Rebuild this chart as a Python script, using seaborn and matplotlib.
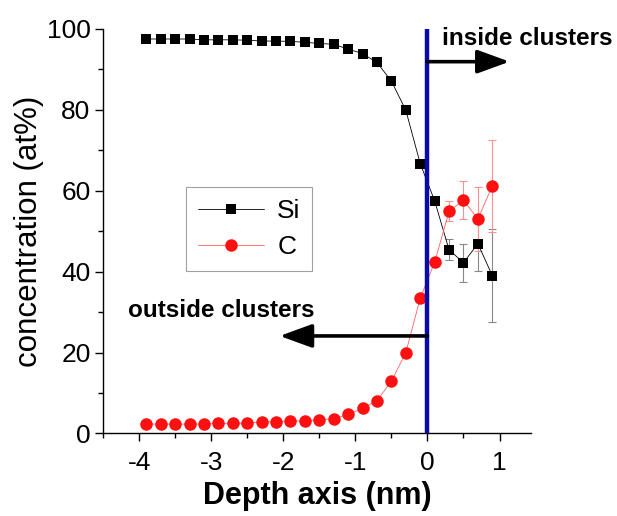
import numpy as np
import pandas as pd
import matplotlib
matplotlib.use("Agg")
import matplotlib.pyplot as plt
import seaborn as sns

depth = [-3.9, -3.7, -3.5, -3.3, -3.1, -2.9, -2.7, -2.5, -2.3, -2.1, -1.9, -1.7, -1.5,
         -1.3, -1.1, -0.9, -0.7, -0.5, -0.3, -0.1, 0.1, 0.3, 0.5, 0.7, 0.9]
si = [97.5, 97.5, 97.5, 97.5, 97.3, 97.3, 97.3, 97.2, 97.0, 97.0, 96.9, 96.7, 96.4,
      96.2, 95.0, 93.9, 91.7, 87.1, 79.9, 66.7, 57.5, 45.4, 42.2, 46.9, 39.0]
c = [2.3, 2.3, 2.3, 2.3, 2.3, 2.5, 2.5, 2.55, 2.9, 2.9, 3.1, 3.1, 3.4,
     3.6, 4.7, 6.2, 8.1, 12.9, 20.0, 33.4, 42.3, 54.9, 57.7, 53.0, 61.2]
err_depth = [0.1, 0.3, 0.5, 0.7, 0.9]
si_err = [1.0, 2.6, 4.7, 6.7, 11.5]
c_err = [1.0, 2.5, 4.7, 8.0, 11.4]

sns.set_style("ticks")
plt.rcParams['font.family'] = ['Liberation Sans', 'DejaVu Sans']
plt.rcParams['axes.unicode_minus'] = False
for k in ['text.color', 'axes.labelcolor', 'xtick.color', 'ytick.color']:
    plt.rcParams[k] = 'black'

fig = plt.figure(figsize=(6.17, 5.16), dpi=100)
ax = fig.add_axes([0.167, 0.160, 0.694, 0.784])

df = pd.DataFrame({"depth": depth, "Si": si, "C": c})

# error bars
si_at = [si[depth.index(d)] for d in err_depth]
c_at = [c[depth.index(d)] for d in err_depth]
ax.errorbar(err_depth, si_at, yerr=si_err, fmt='none', ecolor='#888888', elinewidth=0.8,
            capsize=3, capthick=0.8, zorder=2)
ax.errorbar(err_depth, c_at, yerr=c_err, fmt='none', ecolor='#ff9090', elinewidth=0.8,
            capsize=3, capthick=0.8, zorder=2)

sns.lineplot(data=df, x="depth", y="Si", ax=ax, color='black', lw=0.6,
             marker='s', markersize=7.5, markeredgewidth=0, label='Si', zorder=4)
sns.lineplot(data=df, x="depth", y="C", ax=ax, color='#ff6060', lw=0.6,
             marker='o', markersize=9, markerfacecolor='#ff1010', markeredgewidth=0,
             label='C', zorder=4)

ax.axvline(0, color='#0a0aa8', lw=3.2, zorder=5)

# arrows
ax.annotate('', xy=(1.14, 91.9), xytext=(0.0, 91.9),
            arrowprops=dict(arrowstyle='-|>,head_length=1.1,head_width=0.4',
                            color='black', lw=2.6, mutation_scale=18, shrinkA=0, shrinkB=0),
            zorder=6)
ax.annotate('', xy=(-2.05, 24.1), xytext=(0.0, 24.1),
            arrowprops=dict(arrowstyle='-|>,head_length=1.1,head_width=0.4',
                            color='black', lw=2.6, mutation_scale=18, shrinkA=0, shrinkB=0),
            zorder=6)
ax.text(0.2, 97.7, 'inside clusters', fontsize=17.5, fontweight='bold', ha='left', va='center')
ax.text(-4.16, 30.5, 'outside clusters', fontsize=17.5, fontweight='bold', ha='left', va='center')

ax.set_xlim(-4.5, 1.44)
ax.set_ylim(0, 100)
ax.set_xticks([-4, -3, -2, -1, 0, 1])
ax.set_xticks(np.arange(-4.5, 1.5, 0.5), minor=True)
ax.set_yticks([0, 20, 40, 60, 80, 100])
ax.set_yticks(np.arange(0, 101, 10), minor=True)
ax.tick_params(axis='both', which='major', labelsize=19, length=6, width=1, direction='out',
               color='black', labelcolor='black')
ax.tick_params(axis='x', which='major', pad=7)
ax.tick_params(axis='y', which='major', pad=3)
ax.tick_params(axis='both', which='minor', length=3.5, width=1, direction='out', color='black')
ax.set_xlabel('Depth axis (nm)', fontsize=22, fontweight='bold', labelpad=4, color='black')
ax.set_ylabel('concentration (at%)', fontsize=22.5, labelpad=2, color='black')
sns.despine(ax=ax)
for s in ['left', 'bottom']:
    ax.spines[s].set_color('black')
    ax.spines[s].set_linewidth(1)

leg = ax.legend(loc='upper left', bbox_to_anchor=(0.194, 0.609), fontsize=19,
                frameon=True, fancybox=False, edgecolor='#888888', handlelength=2.5,
                handletextpad=0.5, borderpad=0.45, labelspacing=0.45, borderaxespad=0)
leg.get_frame().set_linewidth(0.8)
for t in leg.get_texts():
    t.set_color('black')

fig.savefig('out.png', dpi=100)
